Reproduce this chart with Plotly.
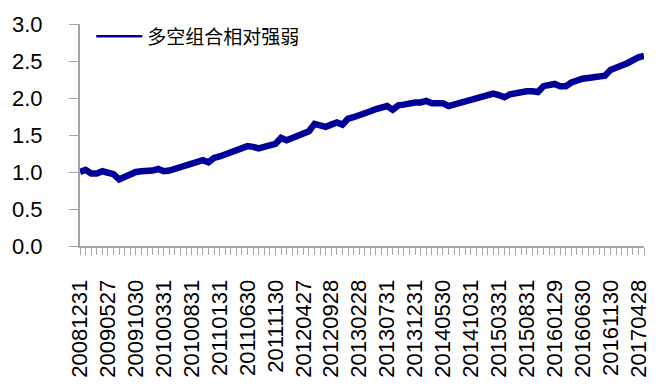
import pandas as pd
import plotly.graph_objects as go

# Month-end dates (categories)
month_ends = pd.date_range("2008-12-01", periods=102, freq="BME").strftime("%Y%m%d").tolist()
tick_labels = ["20081231", "20090527", "20091030", "20100331", "20100831", "20110131",
               "20110630", "20111130", "20120427", "20120928", "20130228", "20130731",
               "20131231", "20140530", "20141031", "20150331", "20150831", "20160129",
               "20160630", "20161130", "20170428"]
dates = list(month_ends)
for k, lab in enumerate(tick_labels):
    dates[k * 5] = lab

values = [1.00, 1.03, 0.98, 0.98, 1.01, 0.99, 0.97, 0.90, 0.94, 0.98,
          1.00, 1.01, 1.01, 1.02, 1.04, 1.01, 1.02, 1.04, 1.08, 1.09,
          1.12, 1.14, 1.16, 1.13, 1.19, 1.21, 1.24, 1.26, 1.30, 1.33,
          1.35, 1.34, 1.32, 1.34, 1.36, 1.38, 1.46, 1.43, 1.46, 1.49,
          1.52, 1.55, 1.65, 1.63, 1.61, 1.64, 1.67, 1.64, 1.72, 1.74,
          1.76, 1.79, 1.82, 1.85, 1.88, 1.89, 1.84, 1.90, 1.91, 1.93,
          1.94, 1.94, 1.96, 1.93, 1.93, 1.93, 1.89, 1.91, 1.94, 1.96,
          1.98, 2.01, 2.02, 2.03, 2.06, 2.04, 2.01, 2.05, 2.07, 2.08,
          2.09, 2.09, 2.08, 2.16, 2.17, 2.19, 2.16, 2.16, 2.21, 2.24,
          2.26, 2.27, 2.28, 2.28, 2.30, 2.38, 2.42, 2.44, 2.47, 2.52,
          2.55, 2.57]

series_name = "多空组合相对强弱"
line_color = "#000099"
axis_color = "#a6a6a6"

fig = go.Figure()
fig.add_trace(go.Scatter(x=dates, y=values, mode="lines", showlegend=False,
                         line=dict(color=line_color, width=6.5)))
fig.add_trace(go.Scatter(x=[None], y=[None], mode="lines", name=series_name,
                         line=dict(color=line_color, width=2.5)))

ticktext = [d if i % 5 == 0 else "" for i, d in enumerate(dates)]

fig.update_layout(
    width=663, height=390,
    margin=dict(l=78, r=15, t=23, b=142),
    paper_bgcolor="white", plot_bgcolor="white",
    font=dict(family="Liberation Sans, Arial", size=22, color="black"),
    legend=dict(x=0.02, y=1.03, xanchor="left", yanchor="top",
                font=dict(family="Noto Sans CJK SC", size=19, color="black"),
                bgcolor="rgba(0,0,0,0)", itemwidth=46),
    xaxis=dict(type="category", categoryorder="array", categoryarray=dates,
               range=[0, len(dates) - 1],
               tickmode="array", tickvals=dates, ticktext=ticktext,
               tickangle=-90, ticks="outside", ticklen=7, tickcolor=axis_color,
               showline=True, linecolor=axis_color, linewidth=2,
               showgrid=False, zeroline=False, ticklabelstandoff=16),
    yaxis=dict(range=[0, 3], dtick=0.5, tickformat=".1f",
               ticks="outside", ticklen=9, tickcolor=axis_color,
               showline=True, linecolor=axis_color, linewidth=2,
               showgrid=False, zeroline=False, ticklabelstandoff=22),
)

fig.write_html("out.html")
